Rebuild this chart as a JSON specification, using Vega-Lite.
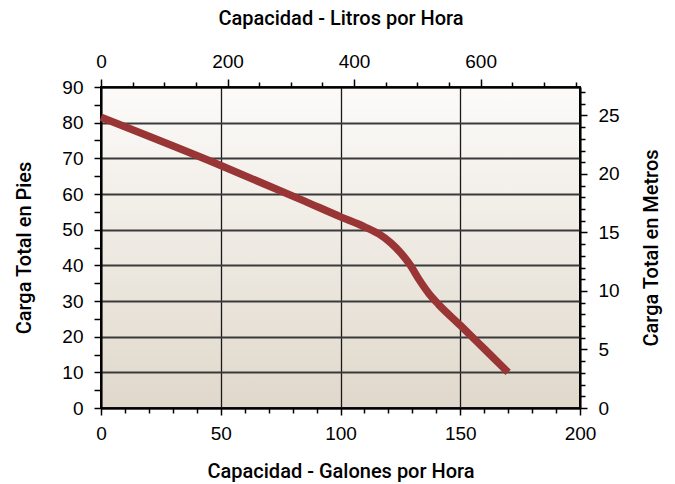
{
  "$schema": "https://vega.github.io/schema/vega-lite/v6.json",
  "width": 479,
  "height": 321,
  "autosize": "none",
  "padding": {"left": 101, "top": 87, "right": 95, "bottom": 76},
  "background": "white",
  "config": {
    "view": {
      "fill": {"gradient": "linear", "x1": 0, "y1": 0, "x2": 0, "y2": 1,
        "stops": [{"offset": 0, "color": "#fcfbf9"}, {"offset": 1, "color": "#e0d8cb"}]},
      "stroke": "#000",
      "strokeWidth": 2
    },
    "axis": {
      "labelFont": "Liberation Sans",
      "titleFont": "Roboto",
      "labelFontSize": 19,
      "titleFontSize": 20,
      "titleFontWeight": 500,
      "labelColor": "#000",
      "titleColor": "#000",
      "domainColor": "#000",
      "domainWidth": 2,
      "tickColor": "#000",
      "tickWidth": 1.5,
      "labelOverlap": false,
      "labelFlush": false
    }
  },
  "layer": [
    {
      "data": {
        "values": [
          {"gal": 0, "ft": 81.5},
          {"gal": 50, "ft": 68},
          {"gal": 85, "ft": 58},
          {"gal": 100, "ft": 53.6},
          {"gal": 110, "ft": 50.8},
          {"gal": 116, "ft": 48.8},
          {"gal": 121, "ft": 46.3},
          {"gal": 125, "ft": 43.6},
          {"gal": 129, "ft": 40.2},
          {"gal": 133, "ft": 35.8},
          {"gal": 137, "ft": 32},
          {"gal": 141, "ft": 29},
          {"gal": 150, "ft": 23.2},
          {"gal": 160, "ft": 16.6},
          {"gal": 170, "ft": 10}
        ]
      },
      "mark": {"type": "line", "color": "#9a3535", "strokeWidth": 7.5, "interpolate": "monotone", "strokeCap": "butt"},
      "encoding": {
        "x": {
          "field": "gal", "type": "quantitative",
          "scale": {"domain": [0, 200], "nice": false, "zero": false},
          "axis": {
            "orient": "bottom",
            "title": "Capacidad - Galones por Hora",
            "values": [0,10,20,30,40,50,60,70,80,90,100,110,120,130,140,150,160,170,180,190,200],
            "labelExpr": "datum.value % 50 === 0 ? datum.label : ''",
            "grid": true,
            "gridColor": "#1a1a1a",
            "gridWidth": 1.3,
            "gridOpacity": {"condition": {"test": "datum.value % 50 === 0", "value": 1}, "value": 0},
            "tickSize": {"condition": {"test": "datum.value % 50 === 0", "value": 7}, "value": 5},
            "labelPadding": 9,
            "titlePadding": 18
          }
        },
        "y": {
          "field": "ft", "type": "quantitative",
          "scale": {"domain": [0, 90], "nice": false, "zero": false},
          "axis": {
            "orient": "left",
            "title": "Carga Total en Pies",
            "values": [0,5,10,15,20,25,30,35,40,45,50,55,60,65,70,75,80,85,90],
            "labelExpr": "datum.value % 10 === 0 ? datum.label : ''",
            "grid": true,
            "gridColor": "#3a3a3a",
            "gridWidth": 1.8,
            "gridOpacity": {"condition": {"test": "datum.value % 10 === 0", "value": 1}, "value": 0},
            "tickSize": 7,
            "labelPadding": 11,
            "titlePadding": 27
          }
        }
      }
    },
    {
      "data": {"values": [{"L": 0, "m": 0}, {"L": 757.08, "m": 27.432}]},
      "mark": {"type": "point", "opacity": 0},
      "encoding": {
        "x": {
          "field": "L", "type": "quantitative",
          "scale": {"domain": [0, 757.08], "nice": false, "zero": false},
          "axis": {
            "orient": "top",
            "title": "Capacidad - Litros por Hora",
            "values": [0,50,100,150,200,250,300,350,400,450,500,550,600,650,700,750],
            "labelExpr": "datum.value % 200 === 0 ? datum.label : ''",
            "grid": false,
            "tickSize": {"condition": {"test": "datum.value % 200 === 0", "value": 8}, "value": 5},
            "labelPadding": 8,
            "titlePadding": 24
          }
        },
        "y": {
          "field": "m", "type": "quantitative",
          "scale": {"domain": [0, 27.432], "nice": false, "zero": false},
          "axis": {
            "orient": "right",
            "title": "Carga Total en Metros",
            "titleAngle": 270,
            "titleBaseline": "bottom",
            "values": [0,1,2,3,4,5,6,7,8,9,10,11,12,13,14,15,16,17,18,19,20,21,22,23,24,25,26,27],
            "labelExpr": "datum.value % 5 === 0 ? datum.label : ''",
            "grid": false,
            "tickSize": {"condition": {"test": "datum.value % 5 === 0", "value": 7}, "value": 5},
            "labelPadding": 11,
            "titlePadding": 42
          }
        }
      }
    }
  ],
  "resolve": {
    "scale": {"x": "independent", "y": "independent"},
    "axis": {"x": "independent", "y": "independent"}
  }
}
